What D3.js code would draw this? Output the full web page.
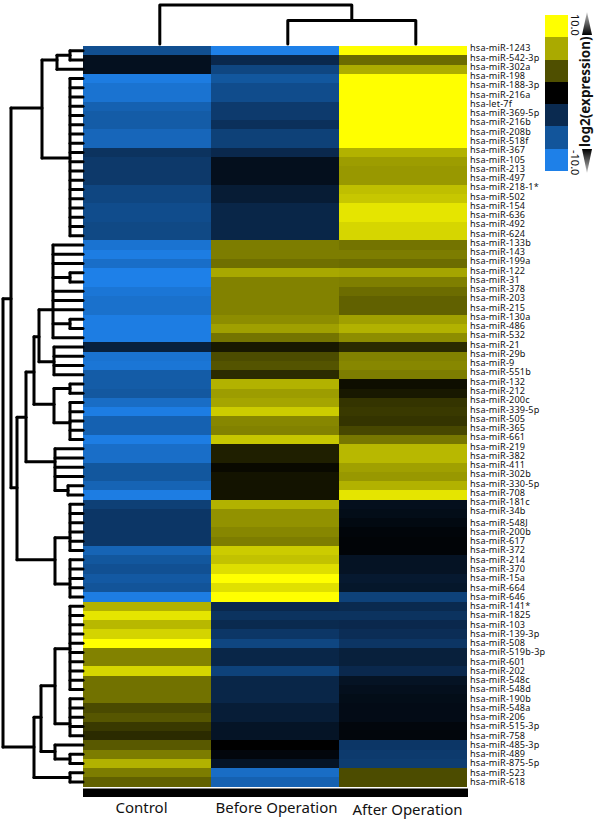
<!DOCTYPE html>
<html><head><meta charset="utf-8">
<script src="https://cdn.jsdelivr.net/npm/d3@7/dist/d3.min.js"></script>
<style>html,body{margin:0;padding:0;background:#fff}svg{display:block}</style>
</head><body><svg id="c" width="600" height="822"></svg>
<script>
const groups = ["Control","Before Operation","After Operation"];
const mirnas = ["hsa-miR-1243","hsa-miR-542-3p","hsa-miR-302a","hsa-miR-198","hsa-miR-188-3p","hsa-miR-216a","hsa-let-7f","hsa-miR-369-5p","hsa-miR-216b","hsa-miR-208b","hsa-miR-518f","hsa-miR-367","hsa-miR-105","hsa-miR-213","hsa-miR-497","hsa-miR-218-1*","hsa-miR-502","hsa-miR-154","hsa-miR-636","hsa-miR-492","hsa-miR-624","hsa-miR-133b","hsa-miR-143","hsa-miR-199a","hsa-miR-122","hsa-miR-31","hsa-miR-378","hsa-miR-203","hsa-miR-215","hsa-miR-130a","hsa-miR-486","hsa-miR-532","hsa-miR-21","hsa-miR-29b","hsa-miR-9","hsa-miR-551b","hsa-miR-132","hsa-miR-212","hsa-miR-200c","hsa-miR-339-5p","hsa-miR-505","hsa-miR-365","hsa-miR-661","hsa-miR-219","hsa-miR-382","hsa-miR-411","hsa-miR-302b","hsa-miR-330-5p","hsa-miR-708","hsa-miR-181c","hsa-miR-34b","hsa-miR-548J","hsa-miR-200b","hsa-miR-617","hsa-miR-372","hsa-miR-214","hsa-miR-370","hsa-miR-15a","hsa-miR-664","hsa-miR-646","hsa-miR-141*","hsa-miR-1825","hsa-miR-103","hsa-miR-139-3p","hsa-miR-508","hsa-miR-519b-3p","hsa-miR-601","hsa-miR-202","hsa-miR-548c","hsa-miR-548d","hsa-miR-190b","hsa-miR-548a","hsa-miR-206","hsa-miR-515-3p","hsa-miR-758","hsa-miR-485-3p","hsa-miR-489","hsa-miR-875-5p","hsa-miR-523","hsa-miR-618"];
const control = [-6.2,-1.3,-1.3,-9.7,-9,-9,-7.6,-7.2,-7.2,-8,-8,-4,-4.5,-4.5,-4.5,-5.5,-5.5,-6,-6,-5.7,-5.7,-9,-9.8,-8.6,-10,-10,-9.2,-8.8,-8.8,-9.8,-9.8,-9.8,-2.6,-9,-9.2,-7.2,-7.2,-6.9,-8.5,-9.8,-7.6,-7.6,-9.8,-8.6,-8.6,-6.8,-6.8,-7.8,-9.8,-5,-4.3,-4.3,-4.3,-4.3,-7.8,-6.8,-6.3,-7,-6.6,-9.8,7,9,7.2,8.3,10,5.2,5.2,8.4,4.6,4.6,4.6,3.1,3.6,2.4,1.8,3.7,5,7,5,4];
const before = [-10,-3.2,-5.5,-6.8,-6,-6,-4.6,-4.6,-3.8,-5.1,-5.1,-3.2,-1.2,-1.2,-1.2,-2.2,-2.2,-3,-3,-3,-3,5,5,4.5,6.6,5.2,5.2,5.2,5.2,5.6,6.3,4.7,1,3.2,3.5,1.8,7,6.2,6.5,8,5.4,5.2,7.8,1.3,1.3,0.4,0.8,0.8,0.8,7,5.8,5.8,5.4,5,8,7.6,8.7,10,8.8,10,-3.2,-4,-3.3,-4.3,-5.5,-3,-3,-5.2,-3,-3,-3,-2.3,-2.3,-1.6,-1.6,0,-0.5,-1.6,-8.5,-7.6];
const after = [10,4.4,6.8,10,10,10,10,10,10,10,10,7,6.2,6,6,7.5,7.8,9,9,8.4,8.4,4.7,5,4.4,6.5,5.1,4.4,4,4,6.3,7,5.6,1.8,5.2,5.4,5,0.6,1,2.2,2.4,2.2,3,4.8,7.2,7.2,6.3,6,7,9,-1.2,-1,-0.7,-0.4,-0.3,-0.3,-1.5,-1.5,-2,-1.8,-5.2,-3.3,-4,-3.2,-3.6,-4.2,-2.5,-2.5,-3.2,-1.5,-1.2,-1,-0.9,-0.9,-0.5,-0.5,-4.3,-4.6,-4.8,3.2,3.2];
const legendStops = [10,6.67,3.33,0,-3.33,-6.67,-10];
const legendColors = ["#ffff00","#aaaa00","#4f4f00","#000000","#0a2a50","#12559b","#1e80e8"];

// Row dendrogram: [merge height, row where the stem leaves, children]; plain numbers are row numbers
const seq = (a,b) => d3.range(a,b+1);
const rowTree = [80,null,[
  [72,27.8,[
    [41,7.2,[
      [26,2,[[13,1.5,[1,2]],3]],
      [13,12.6,seq(4,21)]
    ]],
    [66,48.2,[
      [57,40.6,[
        [49,35.7,[
          [44,31.9,[
            [30,29,[22,23,24,[13,25.5,[25,26]],27,28,29,[13,30.5,[30,31]],32]],
            [29,34.6,seq(33,36)]
          ]],
          [29,39.2,[[13,37.5,[37,38]],[13,41.2,seq(39,43)]]]
        ]],
        [28,45.4,[44,45,46,47,[15,48.5,[48,49]]]]
      ]],
      [28,56,[[13,53.6,seq(50,55)],[13,58.6,seq(56,60)]]]
    ]]
  ]],
  [49,76.2,[
    [42,73,[
      [28,69.6,[[13,65.6,seq(61,70)],[13,73.7,seq(71,75)]]],
      [28,76.7,[76,[13,77.5,[77,78]]]]
    ]],
    [13,79.5,[79,80]]
  ]]
]];
// Column dendrogram: same idea, children are column positions
const colTree = [40,null,[0.6,[24,null,[1.6,2.6]]]];

const svg = d3.select("#c");
const x = d3.scaleBand().domain(groups).range([83,467]);
const y = d3.scaleBand().domain(mirnas).range([46,786.7]);
const color = d3.scaleLinear().domain([-10,-6.67,-3.33,0,3.33,6.67,10])
  .range(["#1e80e8","#12559b","#0a2a50","#000000","#4f4f00","#aaaa00","#ffff00"]);
const font = "'Noto Sans',Tahoma,sans-serif";

// heatmap
const cols = [control,before,after];
groups.forEach((g,i)=>{
  svg.append("g").attr("shape-rendering","crispEdges").selectAll("rect").data(cols[i]).join("rect")
    .attr("x",x(g)).attr("width",x.bandwidth())
    .attr("y",(d,j)=>y(mirnas[j])).attr("height",y.bandwidth()+0.6)
    .attr("fill",d=>color(d));
});

// row labels
const labelShift = i => i < 51 ? -2.4 : -0.3;
svg.append("g").selectAll("text").data(mirnas).join("text")
  .attr("x",470).attr("y",(d,i)=>y(d)+y.bandwidth()/2+labelShift(i))
  .attr("dy","0.35em").attr("font-family",font).attr("font-size",9.1).attr("letter-spacing",0.2).attr("fill","#111").text(d=>d);

// row dendrogram
const hx = d3.scaleLinear().domain([0,80]).range([83,3]);
const ry = d3.scaleLinear().domain([1,80]).range([y(mirnas[0])+y.bandwidth()/2,y(mirnas[79])+y.bandwidth()/2]);
const treeLine = d3.line().curve(d3.curveLinear);
const gTree = svg.append("g").attr("fill","none").attr("stroke","#000").attr("stroke-width",3)
  .attr("stroke-linejoin","round").attr("stroke-linecap","round");
function drawRow(node){
  if (typeof node === "number") return {r:node,h:0};
  const [h,s,kids] = node;
  const infos = kids.map(k=>{
    const info = drawRow(k);
    gTree.append("path").attr("d",treeLine([[hx(h),ry(info.r)],[hx(info.h),ry(info.r)]]));
    return info;
  });
  const ext = d3.extent(infos,d=>d.r);
  gTree.append("path").attr("d",treeLine([[hx(h),ry(ext[0])],[hx(h),ry(ext[1])]]));
  return {r:s,h};
}
drawRow(rowTree);

// column dendrogram
const cx = d3.scaleLinear().domain([0,3]).range([83,467]);
const cy = d3.scaleLinear().domain([0,40]).range([44,5]);
function drawCol(node){
  if (typeof node === "number") return {c:node,h:0};
  const [h,,kids] = node;
  const infos = kids.map(drawCol);
  const a = infos[0], b = infos[1];
  gTree.append("path").attr("d",treeLine([[cx(a.c),cy(a.h)],[cx(a.c),cy(h)],[cx(b.c),cy(h)],[cx(b.c),cy(b.h)]]));
  return {c:(a.c+b.c)/2,h};
}
drawCol(colTree);

// group bar and labels
svg.append("rect").attr("x",83).attr("y",788.5).attr("width",385).attr("height",8.5).attr("fill","#000");
const labelNudge = [-5.5,1.5,4.5], labelY = [808,808,810];
svg.append("g").selectAll("text").data(groups).join("text")
  .attr("x",(d,i)=>x(d)+x.bandwidth()/2+labelNudge[i]).attr("y",(d,i)=>labelY[i])
  .attr("dy","0.35em").attr("text-anchor","middle").attr("font-family",font).attr("font-size",15)
  .attr("fill","#111").text(d=>d);

// legend
const ly = d3.scaleBand().domain(legendStops).range([15,171]);
svg.append("g").attr("shape-rendering","crispEdges").selectAll("rect").data(legendStops).join("rect")
  .attr("x",545).attr("width",23).attr("y",d=>ly(d)).attr("height",ly.bandwidth())
  .attr("fill",(d,i)=>legendColors[i]);
const rotText = (t,px,py,rot,size,weight,anchor) => svg.append("text")
  .attr("transform",`translate(${px},${py}) rotate(${rot})`).attr("font-family",font)
  .attr("font-size",size).attr("font-weight",weight).attr("text-anchor",anchor).attr("fill","#111").text(t);
rotText("10.0",571,14,90,11,400,"start");
rotText("-10.0",571,150,90,11,400,"start");
rotText("log2(expression)",590,147,-90,13.5,700,"start");
const defs = svg.append("defs");
[["wu",0,1],["wd",1,0]].forEach(([id,a,b])=>{
  const g = defs.append("linearGradient").attr("id",id).attr("x1",0).attr("x2",0).attr("y1",0).attr("y2",1);
  g.append("stop").attr("offset",0).attr("stop-color","#000").attr("stop-opacity",a?1:0.25);
  g.append("stop").attr("offset",1).attr("stop-color","#000").attr("stop-opacity",b?1:0.25);
});
svg.append("path").attr("d",treeLine([[587,12],[592,35],[582,35]])+"Z").attr("fill","url(#wu)");
svg.append("path").attr("d",treeLine([[587,173],[592,149],[582,149]])+"Z").attr("fill","url(#wd)");
</script></body></html>
